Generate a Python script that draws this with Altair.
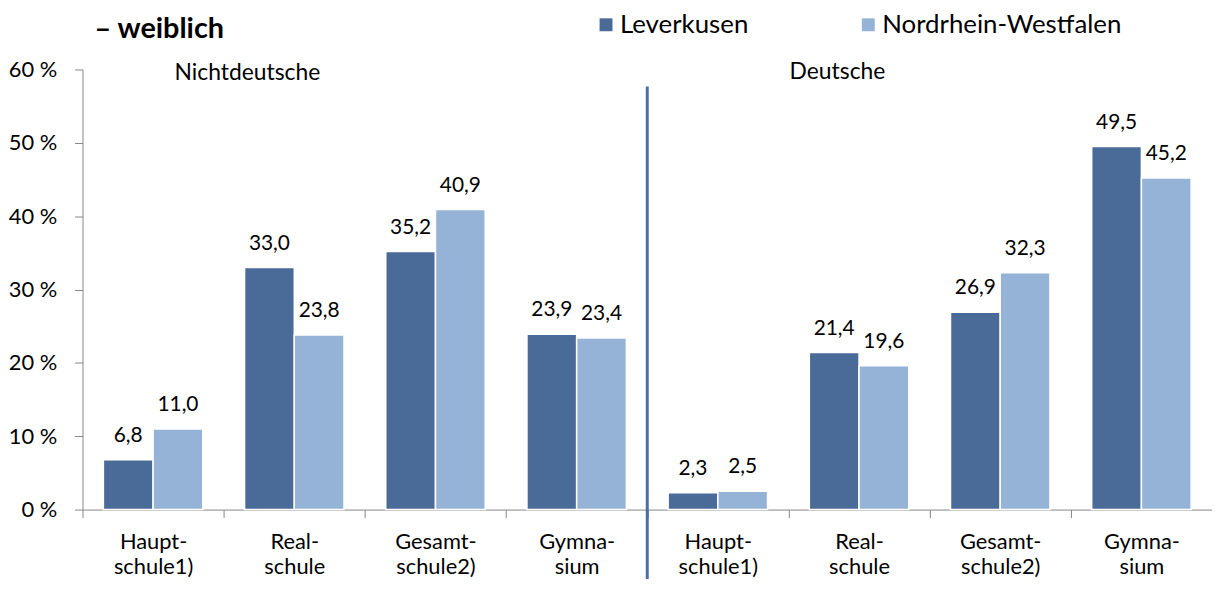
import altair as alt
import pandas as pd

groups = ["Nichtdeutsche", "Deutsche"]
schools = ["Haupt-|schule1)", "Real-|schule", "Gesamt-|schule2)", "Gymna-|sium"]
series = ["Leverkusen", "Nordrhein-Westfalen"]
lev_nd = [6.8, 33.0, 35.2, 23.9]
nrw_nd = [11.0, 23.8, 40.9, 23.4]
lev_d = [2.3, 21.4, 26.9, 49.5]
nrw_d = [2.5, 19.6, 32.3, 45.2]
y_ticks = [0, 10, 20, 30, 40, 50, 60]
title_text = "– weiblich"

DARK = "#4A6B98"
LIGHT = "#95B3D7"
FONT = "Lato"

rows = []
for g, lev, nrw in [(groups[0], lev_nd, nrw_nd), (groups[1], lev_d, nrw_d)]:
    for s, a, b in zip(schools, lev, nrw):
        key = g + "|" + s
        rows.append({"cat": key, "series": series[0], "value": a})
        rows.append({"cat": key, "series": series[1], "value": b})
df = pd.DataFrame(rows)
cat_order = [g + "|" + s for g in groups for s in schools]

W = 1137
H = 443

x = alt.X(
    "cat:N",
    sort=cat_order,
    scale=alt.Scale(domain=cat_order, paddingInner=0, paddingOuter=0),
    axis=alt.Axis(
        title=None,
        labelExpr="[split(datum.label,'|')[1], split(datum.label,'|')[2]]",
        labelAngle=0,
        tickBand="extent",
        ticks=True,
        tickSize=8,
        tickColor="#868686",
        domainColor="#868686",
        labelFontSize=22,
        labelFont=FONT,
        labelColor="#000000",
        labelPadding=14,
        labelLineHeight=25,
        labelBaseline="top",
    ),
)
xo = alt.XOffset(
    "series:N",
    sort=series,
    scale=alt.Scale(domain=series, paddingInner=0, paddingOuter=0.42),
)
y = alt.Y(
    "value:Q",
    scale=alt.Scale(domain=[0, 60], nice=False, zero=True),
    axis=alt.Axis(
        title=None,
        values=y_ticks,
        labelExpr="datum.value + ' %'",
        grid=False,
        tickSize=8,
        tickColor="#868686",
        domainColor="#868686",
        labelFontSize=22,
        labelFont=FONT,
        labelColor="#000000",
        labelPadding=18,
    ),
)
color = alt.Color(
    "series:N",
    sort=series,
    scale=alt.Scale(domain=series, range=[DARK, LIGHT]),
    legend=alt.Legend(
        title=None,
        orient="none",
        legendX=514,
        legendY=-58,
        direction="horizontal",
        symbolType="square",
        symbolSize=169,
        symbolStrokeWidth=0,
        labelFontSize=26,
        labelFont=FONT,
        labelColor="#000000",
        labelLimit=500,
        columnPadding=107,
        labelOffset=1,
        padding=0,
    ),
)

bars = alt.Chart(df).mark_bar(stroke="white", strokeWidth=1.5).encode(
    x=x, xOffset=xo, y=y, color=color
)
labels = (
    alt.Chart(df)
    .transform_calculate(lbl="replace(format(datum.value, '.1f'), '.', ',')")
    .mark_text(fontSize=21, font=FONT, dy=-18, baseline="alphabetic", color="black")
    .encode(x=x, xOffset=xo, y=y, text="lbl:N")
)

title = alt.Chart(pd.DataFrame({"t": [title_text]})).mark_text(
    fontSize=29, font=FONT, fontWeight="bold", align="left", baseline="alphabetic", color="black"
).encode(x=alt.value(12), y=alt.value(-32), text="t:N")

grp1 = alt.Chart(pd.DataFrame({"t": [groups[0]]})).mark_text(
    fontSize=23, font=FONT, align="center", baseline="alphabetic", color="black"
).encode(x=alt.value(166), y=alt.value(11), text="t:N")
grp2 = alt.Chart(pd.DataFrame({"t": [groups[1]]})).mark_text(
    fontSize=23, font=FONT, align="center", baseline="alphabetic", color="black"
).encode(x=alt.value(760), y=alt.value(10), text="t:N")

sep = alt.Chart(pd.DataFrame({"a": [0]})).mark_rule(color="#4A6FA5", strokeWidth=3).encode(
    x=alt.value(W / 2), y=alt.value(17), y2=alt.value(513)
)

chart = (
    alt.layer(bars, labels, title, grp1, grp2, sep)
    .properties(
        width=W,
        height=H,
        autosize=alt.AutoSizeParams(type="none"),
        padding={"left": 75, "top": 60, "right": 0, "bottom": 70},
    )
    .configure_view(stroke=None)
)

chart.save("out.html", embed_options={"renderer": "svg", "actions": False})
